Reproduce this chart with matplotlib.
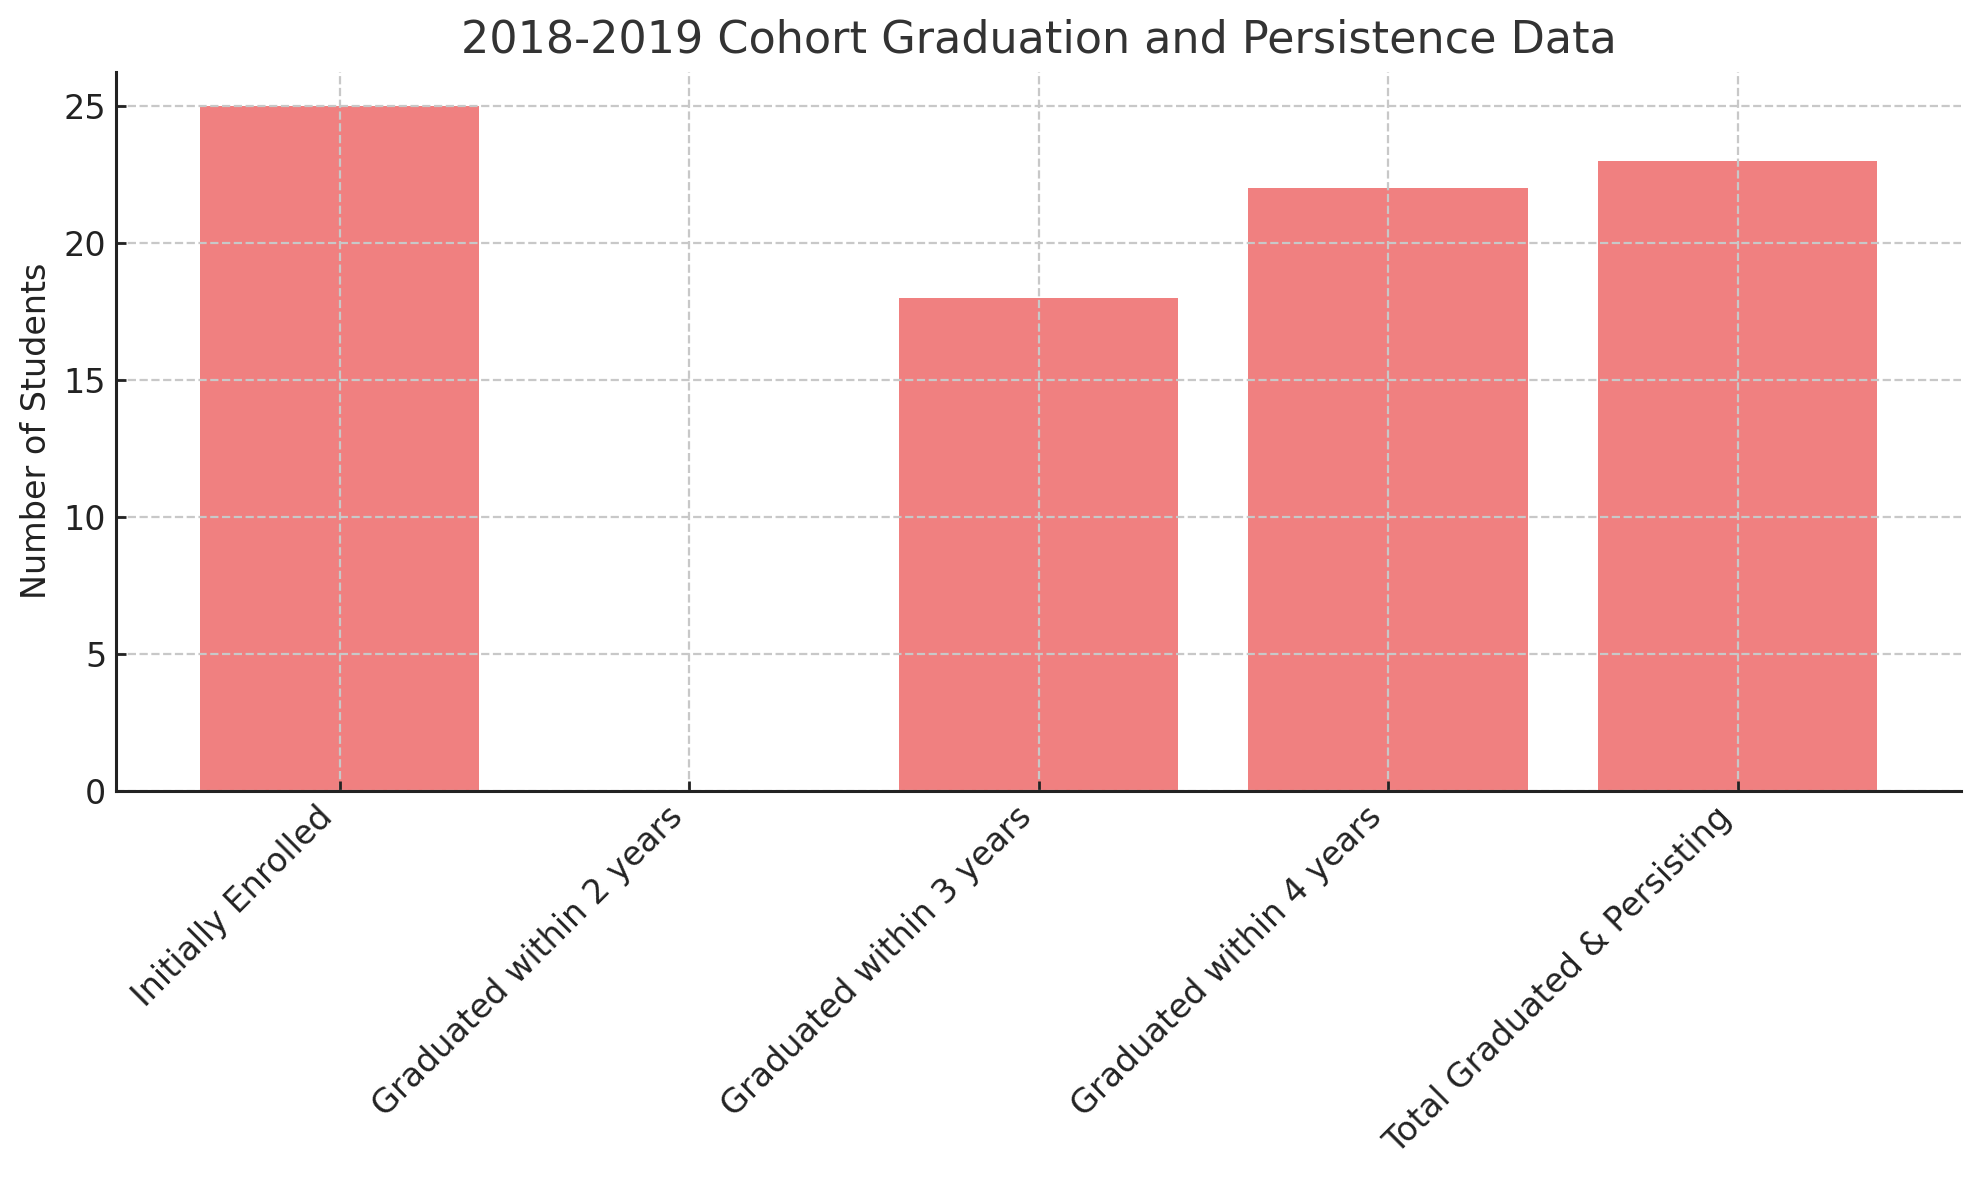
import matplotlib
matplotlib.use("Agg")
import matplotlib.pyplot as plt

categories = ["Initially Enrolled", "Graduated within 2 years", "Graduated within 3 years",
              "Graduated within 4 years", "Total Graduated & Persisting"]
values = [25, 0, 18, 22, 23]

fig = plt.figure(figsize=(1979/200, 1180/200), dpi=200)
ax = fig.add_axes([0.0586, 0.330, 0.991-0.0586, 0.939-0.330])
ax.bar(categories, values, color="lightcoral", width=0.8, zorder=1)
ax.set_axisbelow(False)
ax.grid(True, linestyle="--", color="#c8c8c8", linewidth=0.8, zorder=2)
ax.set_title("2018-2019 Cohort Graduation and Persistence Data", fontsize=16, color="#333333", pad=7)
ax.set_ylabel("Number of Students", fontsize=12, color="#222222")
ax.tick_params(direction="in", labelsize=12, colors="#222222", width=1.0)
plt.setp(ax.get_xticklabels(), rotation=45, ha="right")
for s in ["top", "right"]:
    ax.spines[s].set_visible(False)
for s in ["left", "bottom"]:
    ax.spines[s].set_color("#222222")
    ax.spines[s].set_linewidth(1.1)
    ax.spines[s].set_zorder(5)
fig.savefig("out.png", dpi=200)
